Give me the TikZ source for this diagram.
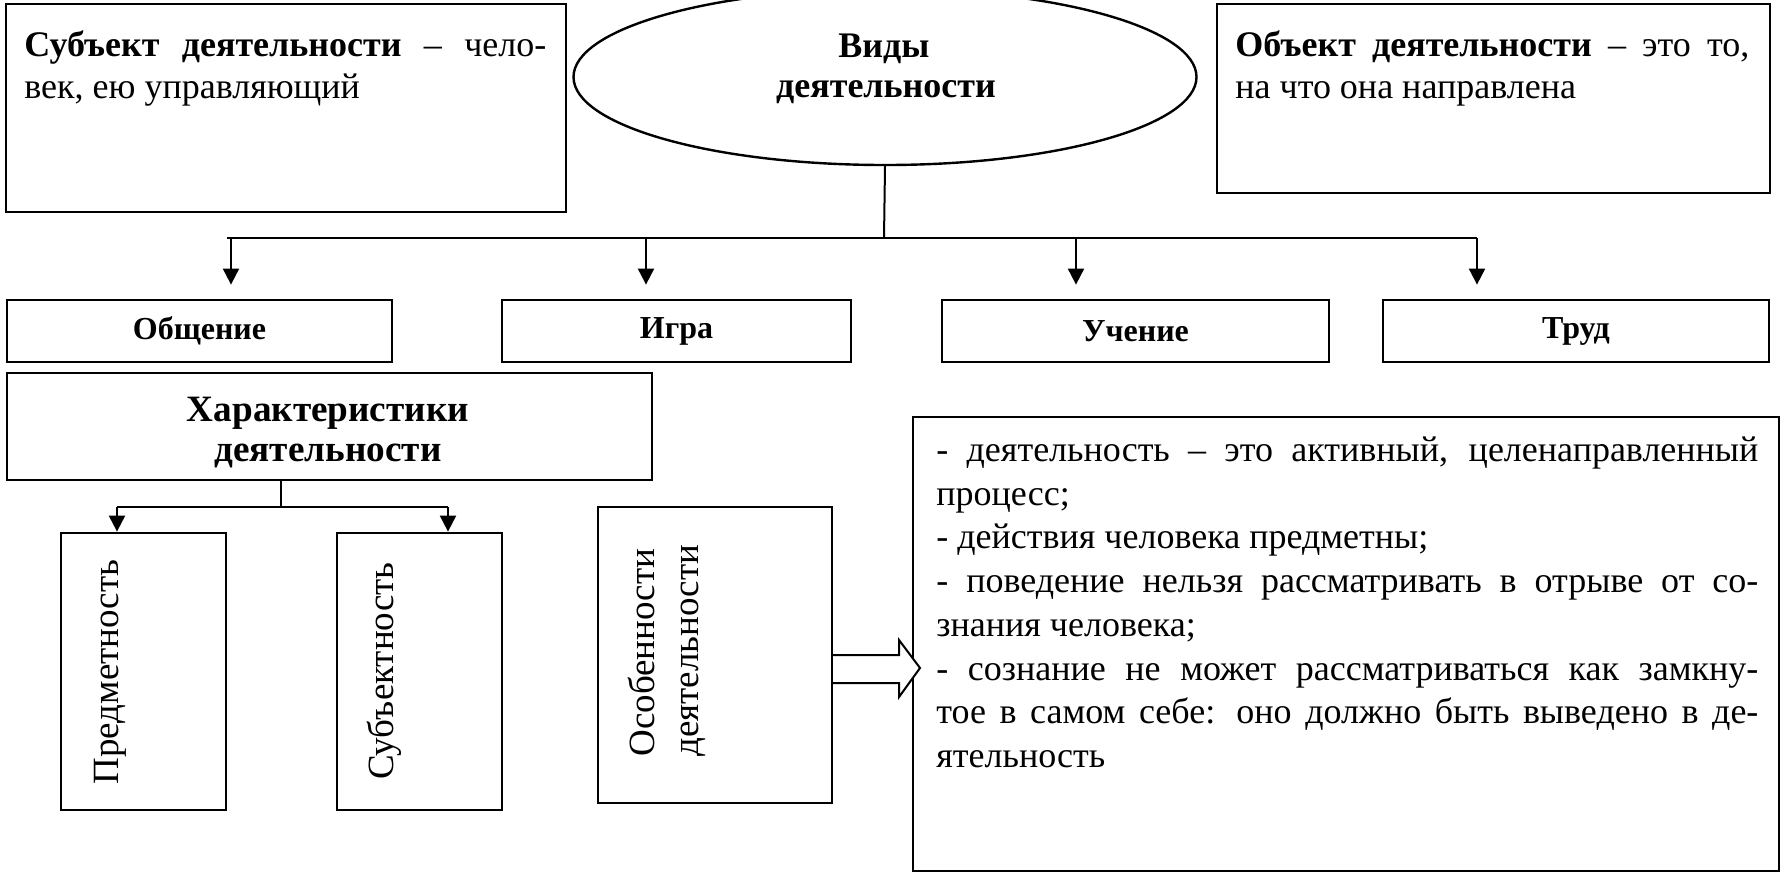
\documentclass[tikz,border=0pt]{standalone}
\usepackage{fontspec}
\setmainfont{Liberation Serif}
\usetikzlibrary{shapes.geometric,arrows.meta}
\newcommand\bodyf{\fontsize{18}{21.5}\selectfont}
\newcommand\lblf{\fontsize{16}{19}\selectfont\bfseries}
\newcommand\bigbf{\fontsize{18}{21}\selectfont\bfseries}
\newcommand\harf{\fontsize{18.6}{21}\selectfont\bfseries}
\newcommand\vertf{\fontsize{18.5}{22}\selectfont}
\begin{document}
\begin{tikzpicture}[x=0.5pt,y=-0.5pt,
  box/.style={draw, line width=1.4pt, inner sep=0pt, rectangle},
  conn/.style={line width=1pt},
  arr/.style={conn, -{Triangle[width=8pt,length=8pt]}},
  tl/.style={anchor=base west, inner sep=0pt, font=\bodyf},
  ctr/.style={anchor=base, inner sep=0pt, font=\bigbf},
  vt/.style={rotate=90, inner sep=0pt, font=\vertf}]
\useasboundingbox (0,0) rectangle (1782,874);
% top boxes
\node[box, minimum width=280pt, minimum height=104pt] (subj) at (286,108) {};
\node[box, minimum width=276.5pt, minimum height=94.5pt] (obj) at (1493.5,98.5) {};
\node[draw, line width=1.2pt, ellipse, inner sep=0pt, minimum width=311.5pt, minimum height=88pt] (ell) at (885,77) {};
\node[tl] (s1) at (24,56) {\makebox[261pt][s]{\textbf{Субъект деятельности} – чело-}};
\node[tl] (s2) at (24,98) {век, ею управляющий};
\node[tl] (o1) at (1235,56) {\makebox[257pt][s]{\textbf{Объект деятельности} – это то,}};
\node[tl] (o2) at (1235,98) {на что она направлена};
\node[ctr] (v1) at (884,57) {Виды};
\node[ctr] (v2) at (886,97) {деятельности};
% row of kinds
\node[box, minimum width=192.5pt, minimum height=31pt, font=\lblf] (ob) at (199.5,331) {Общение};
\node[box, minimum width=174.5pt, minimum height=31pt, font=\lblf] (ig) at (676.5,331) {Игра};
\node[box, minimum width=193.5pt, minimum height=31pt, font=\lblf] (uch) at (1135.5,331) {Учение};
\node[box, minimum width=193pt, minimum height=31pt, font=\lblf] (tr) at (1576,331) {Труд};
% connectors from ellipse
\coordinate (hm) at (884,238);
\coordinate (h0) at (227,238);
\coordinate (a1) at (231,238);
\coordinate (a2) at (646,238);
\coordinate (a3) at (1076,238);
\coordinate (a4) at (1477,238);
\draw[conn] (ell.south) -- (hm);
\draw[conn] (h0) -- (a4);
\draw[arr, shorten >=7pt] (a1) -- (a1 |- ob.north);
\draw[arr, shorten >=7pt] (a2) -- (a2 |- ig.north);
\draw[arr, shorten >=7pt] (a3) -- (a3 |- uch.north);
\draw[arr, shorten >=7pt] (a4) -- (a4 |- tr.north);
% characteristics
\node[box, minimum width=322.5pt, minimum height=53.5pt] (har) at (329.5,426.5) {};
\node[ctr, font=\harf] (h1) at (328,421) {Характеристики};
\node[ctr, font=\harf] (h2) at (328,461) {деятельности};
\node[box, minimum width=82.5pt, minimum height=138.5pt] (pred) at (143.5,671.5) {};
\node[box, minimum width=82.5pt, minimum height=138.5pt] (subjn) at (419.5,671.5) {};
\node[vt, anchor=base] (pt) at (118,672) {Предметность};
\node[vt, anchor=base] (st) at (393,671) {Субъектность};
\coordinate (hc) at (281,507);
\coordinate (hl) at (117,507);
\coordinate (hr) at (448,507);
\draw[conn] (har.south -| hc) -- (hc);
\draw[conn] (hl) -- (hr);
\draw[arr] (hl) -- (hl |- pred.north);
\draw[arr] (hr) -- (hr |- subjn.north);
% features text box
\node[box, minimum width=433pt, minimum height=227pt] (txt) at (1346,644) {};
\node[tl] (t1) at (936,461) {\makebox[411pt][s]{- деятельность – это активный, целенаправленный}};
\node[tl] (t2) at (936,505) {процесс;};
\node[tl] (t3) at (936,548) {- действия человека предметны;};
\node[tl] (t4) at (936,592) {\makebox[411pt][s]{- поведение нельзя рассматривать в отрыве от со-}};
\node[tl] (t5) at (936,636) {знания человека;};
\node[tl] (t6) at (936,680) {\makebox[411pt][s]{- сознание не может рассматриваться как замкну-}};
\node[tl] (t7) at (936,723) {\makebox[411pt][s]{тое в самом себе: оно должно быть выведено в де-}};
\node[tl] (t8) at (936,767) {ятельность};
% block arrow
\draw[line width=1pt, fill=white] (833,655) -- (899,655) -- (899,640) -- (920,668) -- (899,697) -- (899,683) -- (833,683);
% features box
\node[box, minimum width=117pt, minimum height=148pt] (osob) at (715,655) {};
\node[vt, anchor=base west] (os1) at (654,757) {Особенности};
\node[vt, anchor=base west] (os2) at (698,757) {деятельности};
\end{tikzpicture}
\end{document}
